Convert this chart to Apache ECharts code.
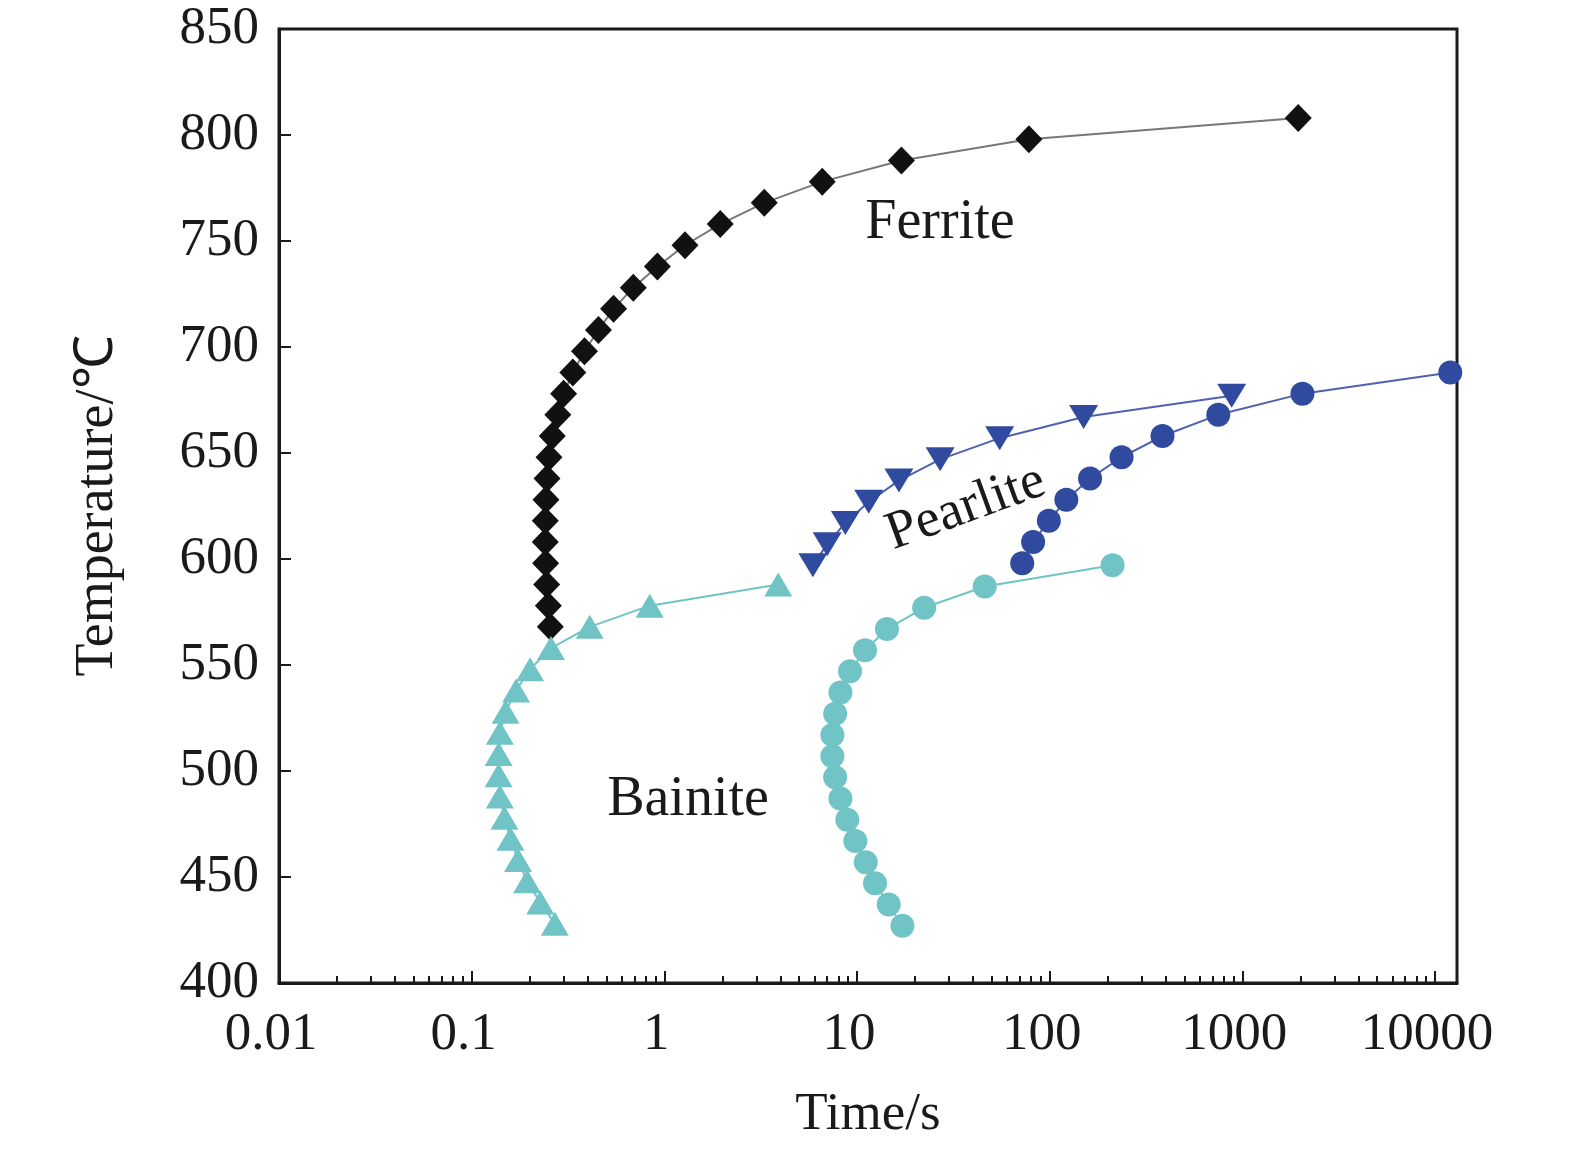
<!DOCTYPE html>
<html>
<head>
<meta charset="utf-8">
<title>CCT</title>
<script src="https://cdn.jsdelivr.net/npm/echarts@6.0.0/dist/echarts.min.js"></script>
<style>
  html, body { margin: 0; padding: 0; background: #fff; }
  #chart { width: 1575px; height: 1150px; }
</style>
</head>
<body>
<div id="chart"></div>
<script>
// 数据
var ferriteTemp = [568, 578, 588, 598, 608, 618, 628, 638, 648, 658, 668, 678, 688, 698, 708, 718, 728, 738, 748, 758, 768, 778, 788, 798, 808];
var ferriteTime = [0.256, 0.250, 0.245, 0.242, 0.241, 0.241, 0.243, 0.246, 0.252, 0.262, 0.280, 0.300, 0.335, 0.385, 0.455, 0.545, 0.69, 0.92, 1.28, 1.95, 3.3, 6.6, 17, 78, 1950];

var bainiteTriTemp = [428, 438, 448, 458, 468, 478, 488, 498, 508, 518, 528, 538, 548, 558, 568, 578, 588];
var bainiteTriTime = [0.27, 0.227, 0.194, 0.174, 0.159, 0.148, 0.140, 0.138, 0.138, 0.140, 0.150, 0.170, 0.201, 0.258, 0.41, 0.84, 3.9];

var bainiteDotTemp = [427, 437, 447, 457, 467, 477, 487, 497, 507, 517, 527, 537, 547, 557, 567, 577, 587, 597];
var bainiteDotTime = [17.2, 14.6, 12.4, 11.1, 9.8, 8.9, 8.2, 7.7, 7.45, 7.45, 7.7, 8.2, 9.2, 11.0, 14.3, 22.3, 46, 212];

var pearliteTriTemp = [597, 607, 617, 627, 637, 647, 657, 667, 677];
var pearliteTriTime = [5.9, 7.0, 8.7, 11.5, 16.5, 27, 55, 150, 880];

var pearliteDotTemp = [598, 608, 618, 628, 638, 648, 658, 668, 678, 688];
var pearliteDotTime = [72, 82, 99, 122, 162, 236, 385, 750, 2050, 12000];

// 刻度
var xMajor = [0.01, 0.1, 1, 10, 100, 1000, 10000];
var xMinor = [];
xMajor.forEach(function (d) {
    for (var k = 2; k <= 9; k++) {
        var v = +(d * k).toPrecision(3);
        if (v < 13000) xMinor.push(v);
    }
});

function pairs(t, T) {
    return t.map(function (v, i) { return [v, T[i]]; });
}

var serif = "'Liberation Serif', 'Times New Roman', serif";
var black = '#111111';
var cyan = '#71c4c6';
var blue = '#2f4a9e';

var myChart = echarts.init(document.getElementById('chart'));

var option = {
    backgroundColor: '#fff',
    animation: false,
    grid: {
        left: 279, top: 29, right: 118, bottom: 167,
        show: true, borderColor: '#1a1a1a', borderWidth: 3
    },
    xAxis: [{
        type: 'log',
        min: 0.01,
        max: 13000,
        name: 'Time/s',
        nameLocation: 'middle',
        nameGap: 106,
        nameTextStyle: { fontFamily: serif, fontSize: 53, color: '#1a1a1a' },
        axisLine: { show: true, lineStyle: { color: '#1a1a1a', width: 3 } },
        axisTick: { show: true, inside: true, length: 12, lineStyle: { color: '#1a1a1a', width: 2 }, customValues: xMajor },
        axisLabel: {
            fontFamily: serif, fontSize: 53, color: '#1a1a1a', margin: 26,
            padding: [0, 16, 0, 0],
            customValues: xMajor,
            formatter: function (v) { return String(+v.toPrecision(6)); }
        },
        splitLine: { show: false },
        minorTick: { show: false }
    }, {
        type: 'log',
        min: 0.01,
        max: 13000,
        position: 'bottom',
        axisLine: { show: false },
        axisTick: { show: true, inside: true, length: 7, lineStyle: { color: '#1a1a1a', width: 2 }, customValues: xMinor },
        axisLabel: { show: false },
        splitLine: { show: false }
    }],
    yAxis: {
        type: 'value',
        min: 400,
        max: 850,
        interval: 50,
        name: 'Temperature/℃',
        nameLocation: 'middle',
        nameGap: 154,
        nameRotate: 90,
        nameTextStyle: { fontFamily: serif, fontSize: 54, color: '#1a1a1a' },
        axisLine: { show: true, lineStyle: { color: '#1a1a1a', width: 3 } },
        axisTick: { show: true, inside: true, length: 12, lineStyle: { color: '#1a1a1a', width: 2 } },
        axisLabel: { fontFamily: serif, fontSize: 53, color: '#1a1a1a', margin: 20 },
        splitLine: { show: false }
    },
    series: [
        {
            name: 'Ferrite',
            type: 'line',
            data: pairs(ferriteTime, ferriteTemp),
            symbol: 'diamond',
            symbolSize: [27, 28],
            itemStyle: { color: black },
            lineStyle: { color: '#777', width: 2 }
        },
        {
            name: 'Bainite start',
            type: 'line',
            data: pairs(bainiteTriTime, bainiteTriTemp),
            symbol: 'triangle',
            symbolSize: [28, 24],
            itemStyle: { color: cyan },
            lineStyle: { color: cyan, width: 2 }
        },
        {
            name: 'Bainite finish',
            type: 'line',
            data: pairs(bainiteDotTime, bainiteDotTemp),
            symbol: 'circle',
            symbolSize: 24,
            itemStyle: { color: cyan },
            lineStyle: { color: cyan, width: 2 }
        },
        {
            name: 'Pearlite start',
            type: 'line',
            data: pairs(pearliteTriTime, pearliteTriTemp),
            symbol: 'triangle',
            symbolRotate: 180,
            symbolSize: [29, 24],
            itemStyle: { color: blue },
            lineStyle: { color: '#4d62b0', width: 2 }
        },
        {
            name: 'Pearlite finish',
            type: 'line',
            data: pairs(pearliteDotTime, pearliteDotTemp),
            symbol: 'circle',
            symbolSize: 24,
            itemStyle: { color: blue },
            lineStyle: { color: '#4d62b0', width: 2 }
        }
    ],
    graphic: [
        {
            type: 'text', x: 940, y: 223,
            style: { text: 'Ferrite', font: '56px ' + serif, fill: '#1a1a1a', align: 'center', verticalAlign: 'middle' }
        },
        {
            type: 'text', x: 688, y: 800,
            style: { text: 'Bainite', font: '56px ' + serif, fill: '#1a1a1a', align: 'center', verticalAlign: 'middle' }
        },
        {
            type: 'text', x: 966, y: 508, rotation: 20 * Math.PI / 180,
            style: { text: 'Pearlite', font: '54px ' + serif, fill: '#1a1a1a', align: 'center', verticalAlign: 'middle' }
        }
    ]
};

myChart.setOption(option);
</script>
</body>
</html>
